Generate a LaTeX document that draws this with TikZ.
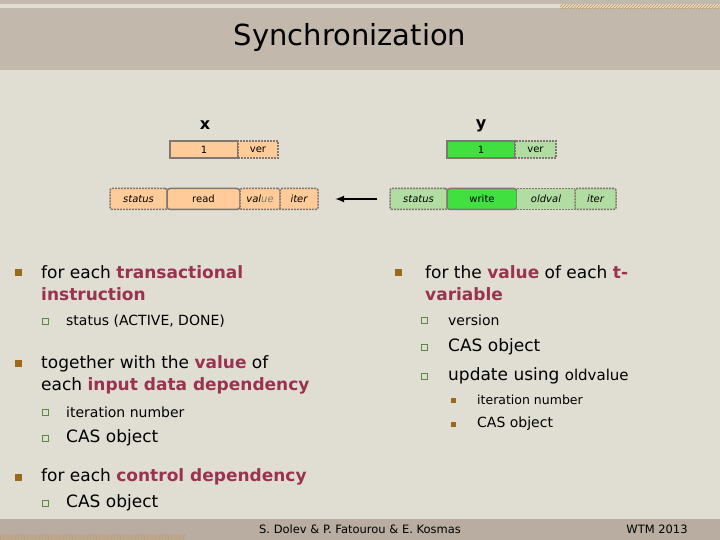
\documentclass[tikz,border=0pt]{standalone}
\usepackage{fontspec}
\setmainfont{DejaVu Sans}
\usetikzlibrary{patterns}
\definecolor{bg}{HTML}{E0DDD2}
\definecolor{bar}{HTML}{C2B8AC}
\definecolor{foot}{HTML}{B8ADA0}
\definecolor{peach}{HTML}{FFCC99}
\definecolor{gbright}{HTML}{40E040}
\definecolor{glight}{HTML}{B2DDA2}
\definecolor{edge}{HTML}{807870}
\definecolor{hl}{HTML}{993350}
\definecolor{bul}{HTML}{9A6A18}
\definecolor{sbul}{HTML}{5A8A40}
\definecolor{stripe}{HTML}{C89050}
\tikzset{
  cell/.style={draw=edge,line width=1.5pt,minimum height=17pt,inner sep=0pt,font=\fontsize{10}{10}\selectfont},
  dcell/.style={cell,dash pattern=on 2pt off 1pt,rounded corners=2pt,minimum height=21pt},
  txt/.style={anchor=west,inner sep=0pt,font=\fontsize{17}{22}\selectfont,align=left},
  stxt/.style={anchor=west,inner sep=0pt,font=\fontsize{14}{18}\selectfont},
  bsq/.style={fill=bul,minimum size=7pt,inner sep=0pt},
  ssq/.style={draw=sbul,fill=bg,line width=0.8pt,minimum size=6pt,inner sep=0pt},
}
\begin{document}
\begin{tikzpicture}[x=1pt,y=-1pt]
\useasboundingbox (0,0) rectangle (720,540);
\fill[bg] (0,0) rectangle (720,540);
\fill[bar] (0,0) rectangle (720,4);
\fill[bar] (0,8) rectangle (720,70);
\fill[pattern=north east lines,pattern color=stripe] (560,5) rectangle (720,9);
\fill[foot] (0,519) rectangle (720,540);
\fill[pattern=north east lines,pattern color=stripe!70!foot] (0,534) rectangle (185,540);
\node[font=\fontsize{29}{29}\selectfont] (title) at (350,38) {Synchronization};
% x object
\node[font=\fontsize{16}{16}\selectfont\bfseries] (xl) at (205,125) {x};
\node[cell,fill=peach,minimum width=68pt] (x1) at (204,149.5) {1};
\node[cell,fill=peach,minimum width=40pt,dash pattern=on 2pt off 1pt] (xv) at (258,149.5) {ver};
% y object
\node[font=\fontsize{16}{16}\selectfont\bfseries] (yl) at (481,126) {y};
\node[cell,fill=gbright,minimum width=68pt] (y1) at (481,149.5) {1};
\node[cell,fill=glight,minimum width=41pt,dash pattern=on 2pt off 1pt] (yv) at (535.5,149.5) {ver};
% x record
\node[dcell,fill=peach,minimum width=57pt] (xs) at (138.5,199) {\itshape status};
\node[cell,fill=peach,rounded corners=3pt,minimum width=73pt,minimum height=21pt] (xr) at (203.5,199) {read};
\node[dcell,fill=peach,minimum width=40pt] (xval) at (260,199) {\itshape val\textcolor{edge}{ue}};
\node[dcell,fill=peach,minimum width=38pt] (xi) at (299,199) {\itshape iter};
% y record
\node[dcell,fill=glight,minimum width=57pt] (ys) at (418.5,199) {\itshape status};
\node[cell,fill=gbright,rounded corners=3pt,minimum width=70pt,minimum height=21pt] (yw) at (482,199) {write};
\node[dcell,fill=glight,minimum width=58pt,draw=none] (yo) at (546,199) {\hfill\itshape oldval};
\node[dcell,fill=glight,minimum width=41pt] (yi) at (595.5,199) {\itshape iter};
\draw[dash pattern=on 2pt off 1pt,draw=edge,line width=1.5pt] (517,188.5) -- (575,188.5) (517,209.5) -- (575,209.5);
\draw[-latex,line width=2pt] (ys.west)++(-12,0) coordinate (a0) -- ++(-42,0) coordinate (a1);
% left text
\node[bsq] (b1) at (18,272) {};
\node[txt] (t1) at (41,283) {for each \textcolor{hl}{\bfseries transactional}\\\textcolor{hl}{\bfseries instruction}};
\node[ssq] (s1) at (45,321) {};
\node[stxt] (u1) at (66,321) {status (ACTIVE, DONE)};
\node[bsq] (b2) at (18,363) {};
\node[txt] (t2) at (41,375) {together with the \textcolor{hl}{\bfseries value} of\\each \textcolor{hl}{\bfseries input data dependency}};
\node[ssq] (s2) at (45,412) {};
\node[stxt] (u2) at (66,412) {iteration number};
\node[ssq] (s3) at (45,438) {};
\node[txt] (u3) at (66,438) {CAS object};
\node[bsq] (b3) at (18,477) {};
\node[txt] (t3) at (41,477) {for each \textcolor{hl}{\bfseries control dependency}};
\node[ssq] (s4) at (45,503) {};
\node[txt] (u4) at (66,503) {CAS object};
% right text
\node[bsq] (b4) at (398,272) {};
\node[txt] (t4) at (425,283) {for the \textcolor{hl}{\bfseries value} of each \textcolor{hl}{\bfseries t-}\\\textcolor{hl}{\bfseries variable}};
\node[ssq] (s5) at (424,320) {};
\node[stxt] (u5) at (448,320) {version};
\node[ssq] (s6) at (424,347) {};
\node[txt] (u6) at (448,347) {CAS object};
\node[ssq] (s7) at (424,376) {};
\node[txt] (u7) at (448,376) {update using \fontsize{15}{15}\selectfont oldvalue};
\node[bsq,minimum size=5pt] (b5) at (453,400) {};
\node[stxt,font=\fontsize{12.5}{15}\selectfont] (u8) at (477,400) {iteration number};
\node[bsq,minimum size=5pt] (b6) at (453,424) {};
\node[stxt] (u9) at (477,424) {CAS object};
% footer
\node[font=\fontsize{11.5}{12}\selectfont] (f1) at (360,529) {S. Dolev \& P. Fatourou \& E. Kosmas};
\node[font=\fontsize{11.5}{12}\selectfont] (f2) at (657,529) {WTM 2013};
\end{tikzpicture}
\end{document}
